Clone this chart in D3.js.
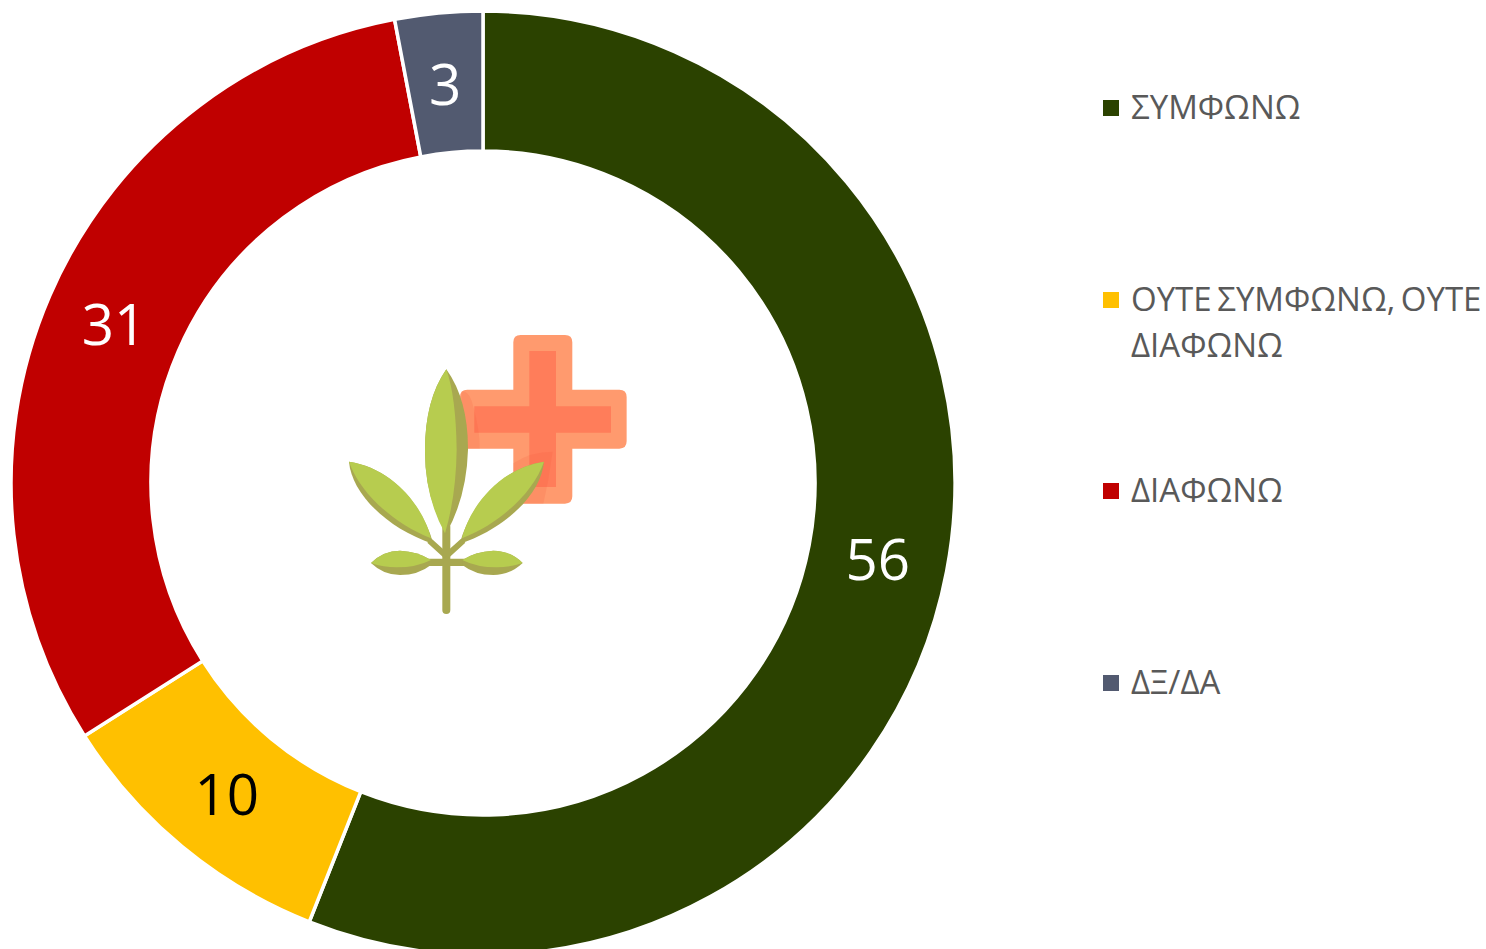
<!DOCTYPE html>
<html>
<head>
<meta charset="utf-8">
<script src="https://cdn.jsdelivr.net/npm/d3@7"></script>
<style>
html, body { margin: 0; padding: 0; background: #fff; overflow: hidden; }
text { font-family: "Open Sans", sans-serif; }
</style>
</head>
<body>
<script>
var categories = ['ΣΥΜΦΩΝΩ', 'ΟΥΤΕ ΣΥΜΦΩΝΩ, ΟΥΤΕ ΔΙΑΦΩΝΩ', 'ΔΙΑΦΩΝΩ', 'ΔΞ/ΔΑ'];
var values = [56, 10, 31, 3];
var colors = ['#2b4200', '#ffc000', '#c00000', '#525a70'];
var labelColors = ['#fff', '#000', '#fff', '#fff'];
// legend text split by hand the way the original wraps it
var legendLines = [['ΣΥΜΦΩΝΩ'], ['ΟΥΤΕ ΣΥΜΦΩΝΩ, ΟΥΤΕ', 'ΔΙΑΦΩΝΩ'], ['ΔΙΑΦΩΝΩ'], ['ΔΞ/ΔΑ']];

var width = 1486, height = 949;
var cx = 483, cy = 483, outerR = 472, innerR = 332;

var svg = d3.select('body').append('svg')
  .attr('width', width)
  .attr('height', height)
  .style('display', 'block');

var pie = d3.pie().sort(null);
var arc = d3.arc().innerRadius(innerR).outerRadius(outerR);
var slices = pie(values);

var donut = svg.append('g').attr('transform', 'translate(' + cx + ',' + cy + ')');

donut.selectAll('path')
  .data(slices)
  .enter().append('path')
  .attr('d', arc)
  .attr('fill', function(d, i) { return colors[i]; })
  .attr('stroke', '#fff')
  .attr('stroke-width', 3.5);

donut.selectAll('text')
  .data(slices)
  .enter().append('text')
  .attr('x', function(d) { return arc.centroid(d)[0]; })
  .attr('y', function(d) { return arc.centroid(d)[1] + 22; })
  .attr('text-anchor', 'middle')
  .attr('font-size', 56.5)
  .attr('fill', function(d, i) { return labelColors[i]; })
  .text(function(d) { return d.value; });

// legend
var legendY = [108, 300, 491, 683];
var legend = svg.append('g');

categories.forEach(function(c, i) {
  legend.append('rect')
    .attr('x', 1103)
    .attr('y', legendY[i] - 8)
    .attr('width', 16)
    .attr('height', 16)
    .attr('fill', colors[i]);

  legendLines[i].forEach(function(line, j) {
    legend.append('text')
      .attr('x', 1131)
      .attr('y', legendY[i] + 10.5 + j * 46)
      .attr('font-size', 33)
      .attr('word-spacing', -3)
      .attr('fill', '#595959')
      .text(line);
  });
});

// icon in the hole, drawn in zoomed pixels then scaled down
var icon = svg.append('g').attr('transform', 'translate(330,320) scale(0.3333)');

icon.append('path')
  .attr('d', 'M572 45H705Q727 45 727 67V209H868Q890 209 890 231V364Q890 386 868 386H727V529Q727 551 705 551H572Q550 551 550 529V386H412Q390 386 390 364V231Q390 209 412 209H550V67Q550 45 572 45Z')
  .attr('fill', '#ff9a6e');
icon.append('path')
  .attr('d', 'M598 93H678V259H843V338H678V501H598V338H433V259H598Z')
  .attr('fill', '#ff7d5a');
// leaf shadows falling on the cross
icon.append('path')
  .attr('d', 'M395 215Q418 210 430 260Q450 330 449 386H412Q395 386 395 364Z')
  .attr('fill', '#f0573a')
  .attr('fill-opacity', 0.16);
icon.append('path')
  .attr('d', 'M550 430Q600 395 668 395L655 480L640 551H572Q550 551 550 529Z')
  .attr('fill', '#f0573a')
  .attr('fill-opacity', 0.16);

var stem = '#a8a850', leaf = '#b7cc4f';

icon.append('path').attr('d', 'M349 620V870').attr('stroke', stem).attr('stroke-width', 24).attr('stroke-linecap', 'round').attr('fill', 'none');
icon.append('path').attr('d', 'M295 727H405').attr('stroke', stem).attr('stroke-width', 22).attr('fill', 'none');
icon.append('path').attr('d', 'M349 708L298 662M349 708L400 662').attr('stroke', stem).attr('stroke-width', 18).attr('fill', 'none');

// top leaf
icon.append('path').attr('d', 'M349 148Q415 240 414 390Q410 530 349 640Q284 530 285 390Q285 240 349 148Z').attr('fill', stem);
icon.append('path').attr('d', 'M349 148Q378 230 380 390Q378 530 345 640Q284 530 285 390Q285 240 349 148Z').attr('fill', leaf);
// left leaf
icon.append('path').attr('d', 'M57 425C65 520 170 625 310 672C280 560 190 445 57 425Z').attr('fill', stem);
icon.append('path').attr('d', 'M57 425C90 520 190 610 303 655C280 560 190 445 57 425Z').attr('fill', leaf);
// right leaf
icon.append('path').attr('d', 'M642 425C634 520 529 625 389 672C419 560 509 445 642 425Z').attr('fill', stem);
icon.append('path').attr('d', 'M642 425C609 520 509 610 396 655C419 560 509 445 642 425Z').attr('fill', leaf);
// small leaves
icon.append('path').attr('d', 'M123 729Q160 692 210 692Q265 695 303 720V735Q265 765 210 765Q160 765 123 729Z').attr('fill', stem);
icon.append('path').attr('d', 'M123 729Q160 692 210 692Q265 695 303 720Q260 742 200 742Q160 742 123 729Z').attr('fill', leaf);
icon.append('path').attr('d', 'M578 729Q540 692 490 692Q435 695 397 720V735Q435 765 490 765Q540 765 578 729Z').attr('fill', stem);
icon.append('path').attr('d', 'M578 729Q540 692 490 692Q435 695 397 720Q440 742 500 742Q540 742 578 729Z').attr('fill', leaf);
</script>
</body>
</html>
